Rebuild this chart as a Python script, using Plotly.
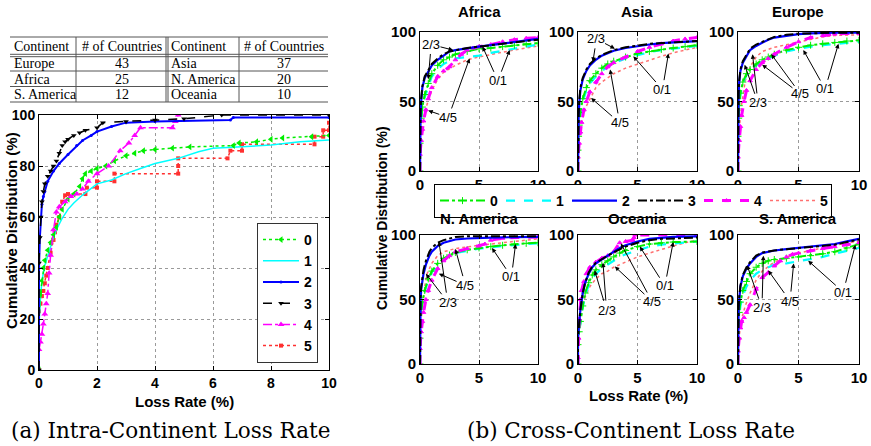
import plotly.graph_objects as go

W, H = 871, 446
def fx(p): return p / W
def fy(p): return 1 - p / H

SANS = "Liberation Sans"
SERIF = "Liberation Serif"
CAPSERIF = "DejaVu Serif"

# ---------------- table data ----------------
table_header = ["Continent", "# of Countries", "Continent", "# of Countries"]
table_cont_a = ["Europe", "Africa", "S. America"]
table_count_a = [43, 25, 12]
table_cont_b = ["Asia", "N. America", "Oceania"]
table_count_b = [37, 20, 10]

series_names = ["0", "1", "2", "3", "4", "5"]

# ---------------- (a) intra-continent loss rate CDF ----------------
intra_x0 = [0, 0, 0.05, 0.1, 0.15, 0.2, 0.3, 0.4, 0.5, 0.6, 0.7, 0.8, 1.0, 1.2, 1.4, 1.5, 1.6, 1.8, 2.0, 2.3, 2.6, 3.0, 3.3, 3.6, 4.0, 4.6, 5.2, 6.7, 6.9, 7.5, 8.0, 8.4, 9.4, 10]
intra_y0 = [0, 26, 30, 35, 40, 43, 47, 50, 53, 56, 60, 63, 67, 69, 72, 75, 77, 78, 79, 80, 82, 84, 85, 86, 86.5, 87, 87.5, 88, 89, 89.5, 90.5, 91, 91.5, 92]
intra_x1 = [0, 0, 0.05, 0.1, 0.2, 0.3, 0.4, 0.5, 0.6, 0.8, 1.0, 1.2, 1.5, 2.0, 2.5, 3.0, 3.5, 4.0, 4.8, 5.2, 5.5, 6.0, 7.0, 8.0, 9.0, 10]
intra_y1 = [0, 18, 28, 35, 41, 45, 49, 52, 55, 59.5, 63, 65.5, 68.6, 73, 74.5, 77, 79, 81, 83, 84.6, 85.6, 87, 87.6, 88.2, 89.5, 90.2]
intra_x2 = [0, 0, 0.03, 0.06, 0.1, 0.15, 0.2, 0.3, 0.5, 0.7, 1.0, 1.3, 1.5, 1.8, 2.0, 2.5, 3.0, 4.0, 5.0, 6.6, 6.7, 10]
intra_y2 = [0, 40, 52, 60, 65, 68, 70, 74, 78, 81, 84.5, 88, 90, 92, 93.5, 95.5, 97, 97.5, 97.8, 98, 99, 99]
intra_x3 = [0, 0, 0.03, 0.06, 0.1, 0.15, 0.2, 0.3, 0.4, 0.5, 0.6, 0.7, 0.8, 0.9, 1.0, 1.2, 1.4, 1.6, 2.0, 2.2, 3.0, 4.0, 5.0, 6.3, 10]
intra_y3 = [0, 42, 52, 60, 66, 70, 73, 76, 78, 80, 82, 85, 88, 89.5, 90.5, 92, 93, 94, 95, 97, 97.5, 98, 98.5, 100, 100]
intra_x4 = [0, 0, 0.05, 0.1, 0.15, 0.2, 0.25, 0.3, 0.35, 0.4, 0.5, 0.6, 0.7, 0.9, 1.1, 1.3, 1.5, 1.7, 2.0, 2.4, 2.8, 3.1, 3.3, 3.5, 4.6, 4.7, 4.8]
intra_y4 = [0, 8, 11, 14, 18, 22, 26, 30, 38, 45, 55, 62, 64, 66, 68, 69, 71, 74, 77, 80, 86, 89, 92, 95, 95, 97.5, 100]
intra_x5 = [0, 0, 0.05, 0.1, 0.15, 0.2, 0.25, 0.3, 0.4, 0.5, 0.55, 0.6, 0.7, 0.8, 0.9, 1.0, 1.6, 1.65, 2.0, 2.0, 2.6, 2.6, 4.8, 4.8, 4.8, 6.5, 6.6, 7.0, 7.0, 9.5, 9.5, 9.8, 9.8, 10, 10]
intra_y5 = [0, 23, 26, 29, 31, 34, 37, 40, 46, 51, 54, 57, 60, 66, 68.5, 69, 69, 71.5, 71.5, 74, 74, 77, 77, 80, 83, 83, 86, 86, 88.5, 88.5, 91.5, 91.5, 94, 94, 97]

intra_x = [intra_x0, intra_x1, intra_x2, intra_x3, intra_x4, intra_x5]
intra_y = [intra_y0, intra_y1, intra_y2, intra_y3, intra_y4, intra_y5]

# ---------------- (b) cross-continent loss rate CDF ----------------
continents = ["Africa", "Asia", "Europe", "N. America", "Oceania", "S. America"]

xa = [0, 0, 0.05, 0.1, 0.2, 0.4, 0.7, 1.0, 1.5, 2.0, 2.5, 3.0, 4.0, 5.0, 6.0, 7.0, 8.0, 9.0, 10]
africa_x = [xa, xa, xa, xa,
            [0, 0, 0.1, 0.2, 0.3, 0.5, 0.7, 1.0, 1.5, 2.0, 2.5, 3.0, 3.5, 4.0, 4.5, 5.0, 6.0, 7.0, 8.0, 9.0, 10],
            [0, 0, 0.1, 0.3, 0.6, 1.0, 1.5, 2.0, 3.0, 4.0, 5.0, 6.0, 7.0, 8.0, 9.0, 10]]
africa_y = [[0, 20, 30, 38, 46, 55, 63, 70, 76, 80, 82, 84, 86, 88, 88.5, 89.5, 90.5, 91.5, 92],
            [0, 20, 30, 37, 45, 53, 61, 68, 73, 77, 79, 81, 82, 83, 85, 86.5, 88, 89.5, 91],
            [0, 30, 42, 50, 60, 67, 72, 76, 80, 83, 86, 87, 88.5, 89.5, 90.5, 91.5, 92.5, 94, 95],
            [0, 32, 44, 52, 61, 68, 73, 77, 81, 84, 86, 87, 88.5, 89.5, 90.5, 91.5, 92.5, 93.5, 94.5],
            [0, 12, 22, 30, 36, 44, 52, 60, 68, 72, 75, 80, 84, 87, 88.5, 89.5, 91, 93, 94.5, 95.5, 96],
            [0, 12, 25, 38, 48, 58, 66, 71, 76, 80, 82, 84, 85.5, 87, 88.5, 90]]

asia_x = [xa, xa, xa, xa,
          [0, 0, 0.1, 0.2, 0.3, 0.5, 0.7, 1.0, 1.5, 2.0, 2.5, 3.0, 4.0, 5.0, 6.0, 7.0, 8.0, 9.0, 10],
          [0, 0, 0.1, 0.3, 0.6, 1.0, 1.5, 2.0, 3.0, 4.0, 5.0, 6.0, 7.0, 8.0, 9.0, 10]]
asia_y = [[0, 15, 25, 33, 42, 52, 60, 65, 70, 74, 77, 79, 82, 84.5, 86, 87.5, 88.5, 89.5, 90.5],
          [0, 15, 24, 32, 40, 50, 58, 63, 68, 72, 75, 77.5, 81, 83.5, 85.5, 87, 88, 89, 90],
          [0, 25, 38, 48, 58, 66, 72, 76, 80, 83, 85, 86.5, 88.5, 90, 91, 92, 92.5, 93, 93.5],
          [0, 27, 40, 50, 60, 67, 73, 77, 81, 83.5, 85.5, 87, 89, 90.5, 91.5, 92, 92.5, 93, 93.5],
          [0, 10, 20, 28, 35, 44, 50, 57, 64, 70, 75, 78, 82, 86, 89, 91.5, 93.5, 95, 96],
          [0, 10, 22, 35, 45, 52, 60, 64, 70, 74, 77, 80, 82.5, 85, 87, 89]]

xe = [0, 0, 0.05, 0.1, 0.2, 0.4, 0.7, 1.0, 1.5, 2.0, 2.5, 3.0, 4.0, 5.0, 6.0, 7.0, 8.0, 10]
europe_x = [xa, xa, xe, xe,
            [0, 0, 0.1, 0.2, 0.3, 0.5, 0.7, 1.0, 1.5, 2.0, 2.5, 3.0, 4.0, 5.0, 6.0, 7.0, 8.0, 9.0, 10],
            [0, 0, 0.1, 0.3, 0.6, 1.0, 1.5, 2.0, 3.0, 4.0, 5.0, 6.0, 7.0, 8.0, 10]]
europe_y = [[0, 25, 38, 47, 56, 64, 70, 73, 77, 80, 82, 84, 87, 89, 90.5, 91.5, 92.5, 93.5, 94],
            [0, 25, 37, 46, 55, 63, 69, 72, 76, 79, 81, 83, 86, 88, 89.5, 90.5, 91.5, 92.5, 93],
            [0, 35, 55, 64, 72, 78, 83, 87, 90, 92.5, 94.5, 96, 97.5, 98.5, 99, 99.3, 99.5, 99.5],
            [0, 37, 56, 65, 73, 79, 84, 88, 91, 93, 95, 96.5, 98, 98.8, 99, 99.3, 99.5, 99.5],
            [0, 10, 22, 32, 40, 50, 58, 65, 73, 78, 81, 84, 89, 93, 96, 97.5, 98.5, 99, 99],
            [0, 15, 30, 48, 65, 75, 82, 86, 89, 91, 93, 95, 96.5, 97.5, 98]]

xn = [0, 0, 0.05, 0.1, 0.2, 0.3, 0.5, 0.8, 1.0, 1.5, 2.0, 2.5, 3.0, 4.0, 5.0, 6.0, 8.0, 10]
namerica_x = [xa, xa, xn, xn,
              [0, 0, 0.1, 0.2, 0.3, 0.5, 0.7, 1.0, 1.5, 2.0, 2.5, 3.0, 4.0, 5.0, 5.5, 6.0, 7.0, 8.0, 10],
              [0, 0, 0.1, 0.2, 0.4, 0.6, 1.0, 1.5, 2.0, 3.0, 4.0, 5.0, 6.0, 7.0, 8.0, 9.0, 10]]
namerica_y = [[0, 20, 32, 40, 48, 57, 66, 72, 78, 82, 84.5, 86.5, 88.5, 90, 91, 92, 93, 93.5, 94],
              [0, 20, 31, 39, 47, 56, 65, 71, 77, 81, 84, 86, 88, 89.5, 90.5, 91.5, 92.5, 93, 93.5],
              [0, 30, 50, 58, 66, 70, 77, 84, 87, 91.5, 94, 95.5, 96.5, 97.3, 97.8, 98, 98.3, 98.5],
              [0, 32, 52, 60, 68, 73, 80, 87, 90, 94, 96, 97.5, 98.5, 99, 99, 99, 99, 99],
              [0, 12, 25, 33, 40, 50, 57, 65, 74, 80, 84, 87, 89.5, 91.5, 93, 96, 97.5, 98, 98.5],
              [0, 20, 35, 45, 60, 70, 78, 84, 87, 89.5, 91, 92, 93, 94, 95, 96, 97]]

xo = [0, 0, 0.1, 0.2, 0.4, 0.6, 0.9, 1.2, 1.5, 2.0, 2.5, 3.0, 3.5, 4.0, 5.0, 6.0, 7.0, 8.0, 10]
oceania_x = [xo, xo, xo, xo,
             [0, 0, 0.05, 0.1, 0.2, 0.3, 0.5, 0.7, 1.0, 1.5, 2.0, 2.5, 3.0, 3.5, 4.0, 4.6, 4.7, 4.8, 10],
             [0, 0, 0.1, 0.3, 0.6, 1.0, 1.5, 2.0, 2.5, 3.0, 4.0, 5.0, 6.0, 7.0, 8.0, 9.0, 10]]
oceania_y = [[0, 15, 25, 33, 45, 55, 63, 69, 73, 77, 80, 83, 86, 88, 91, 93, 94, 94.5, 95],
             [0, 15, 25, 32, 44, 53, 61, 66, 70, 74, 77, 80, 83, 85, 88, 91, 92.5, 93.5, 95],
             [0, 20, 32, 42, 55, 63, 70, 75, 78, 81, 84, 87, 90, 92, 95, 97, 98, 98.5, 99],
             [0, 20, 32, 42, 55, 63, 71, 75.5, 78.5, 81.5, 84, 86.5, 89, 91, 94, 96, 97, 97.5, 98],
             [0, 5, 20, 35, 50, 57, 64, 70, 75, 79, 82, 84, 87, 94, 95, 96, 98, 100, 100],
             [0, 10, 25, 40, 52, 60, 66, 70, 72, 75, 79, 83, 86, 89, 91.5, 94, 96]]

samerica_x = [xa, xa, xa, xa,
              [0, 0, 0.1, 0.2, 0.3, 0.5, 0.7, 1.0, 1.5, 2.0, 2.5, 3.0, 3.5, 4.0, 4.5, 5.0, 6.0, 7.0, 8.0, 9.0, 10],
              [0, 0, 0.1, 0.3, 0.6, 1.0, 1.5, 2.0, 3.0, 4.0, 5.0, 6.0, 7.0, 8.0, 9.0, 10]]
samerica_y = [[0, 20, 32, 40, 48, 57, 64, 70, 75, 78, 80, 81, 82, 83, 84, 85.5, 87, 90, 93],
              [0, 20, 30, 37, 45, 53, 60, 65, 70, 73, 75, 77, 78, 79.5, 81, 83, 85.5, 88, 90],
              [0, 30, 42, 50, 60, 68, 74, 78, 83, 86, 87, 88, 89, 90, 90.5, 91.5, 93, 95, 97],
              [0, 32, 44, 52, 61, 69, 75, 79, 84, 86.5, 87.5, 88, 89, 90, 90.5, 91.5, 92.5, 94.5, 96.5],
              [0, 10, 20, 28, 33, 36, 40, 46, 58, 67, 71, 76, 80, 83, 85, 86, 88, 89.5, 91, 92.5, 94],
              [0, 10, 22, 35, 45, 55, 65, 72, 79, 83, 86, 88, 90, 92, 94, 95]]

cross_x = [africa_x, asia_x, europe_x, namerica_x, oceania_x, samerica_x]
cross_y = [africa_y, asia_y, europe_y, namerica_y, oceania_y, samerica_y]

# annotation labels: (label, text position, arrow targets) per continent
notes_africa = [("2/3", (0.95, 91), [(2.8, 87), (0.7, 66)]),
                ("0/1", (6.6, 65), [(5.3, 89.5), (7.6, 87)]),
                ("4/5", (2.4, 38.5), [(0.7, 43.5), (4.2, 81)])]
notes_asia = [("2/3", (1.55, 95), [(1.25, 78.5), (3.1, 88)]),
              ("0/1", (7.1, 58.6), [(4.65, 82.5), (7.6, 84.5)]),
              ("4/5", (3.5, 34.7), [(1.1, 52.5), (2.7, 73)])]
notes_europe = [("2/3", (1.65, 49), [(0.55, 76.5), (1.2, 84)]),
                ("4/5", (5.15, 55.5), [(2.0, 76.5), (2.75, 84)]),
                ("0/1", (7.2, 59), [(5.4, 87), (8.3, 91.5)])]
notes_namerica = [("2/3", (2.35, 48), [(0.5, 70), (1.6, 95)]),
                  ("4/5", (3.85, 61), [(1.6, 70), (3.0, 89)]),
                  ("0/1", (7.75, 67.5), [(6.1, 90), (8.1, 93)])]
notes_oceania = [("2/3", (2.4, 41.8), [(1.4, 72.5), (2.1, 78.5)]),
                 ("4/5", (6.2, 48.8), [(3.1, 75.5), (3.6, 93.5)]),
                 ("0/1", (7.3, 60.5), [(5.2, 91), (8.0, 94.5)])]
notes_samerica = [("2/3", (1.98, 43.6), [(0.75, 76.5), (2.1, 84)]),
                  ("4/5", (4.3, 48.8), [(2.5, 72.5), (4.6, 78)]),
                  ("0/1", (8.7, 55.8), [(5.8, 80), (9.7, 92.5)])]
cross_notes = [notes_africa, notes_asia, notes_europe, notes_namerica, notes_oceania, notes_samerica]

# ---------------- styles ----------------
left_styles = [
    dict(color="#00ee00", dash="dot", width=1.5, symbol="triangle-left", size=6, mode="lines+markers"),
    dict(color="#00ffff", dash="solid", width=1.5, symbol="circle", size=1, mode="lines"),
    dict(color="#0000ff", dash="solid", width=2, symbol="circle", size=3, mode="lines+markers"),
    dict(color="#000000", dash="dash", width=1.5, symbol="triangle-down", size=5, mode="lines+markers"),
    dict(color="#ff00ff", dash="dashdot", width=1.5, symbol="triangle-up", size=6, mode="lines+markers"),
    dict(color="#ff3030", dash="dot", width=1.5, symbol="square", size=4, mode="lines+markers"),
]
right_styles = [
    dict(color="#00ee00", dash="dashdot", width=2, symbol="cross-thin-open", size=5, mode="lines+markers"),
    dict(color="#00ffff", dash="dash", width=2.2, symbol="circle", size=1, mode="lines"),
    dict(color="#0000ff", dash="solid", width=2.2, symbol="circle", size=1, mode="lines"),
    dict(color="#000000", dash="dashdot", width=2, symbol="circle", size=1, mode="lines"),
    dict(color="#ff00ff", dash="dash", width=3, symbol="triangle-up", size=4, mode="lines+markers"),
    dict(color="#ff7070", dash="dot", width=1.5, symbol="circle", size=1, mode="lines"),
]
draw_order = [5, 1, 0, 4, 2, 3]

fig = go.Figure()

# left plot
for i in draw_order:
    s = left_styles[i]
    fig.add_trace(go.Scatter(
        x=intra_x[i], y=intra_y[i], name=series_names[i], mode=s["mode"],
        line=dict(color=s["color"], dash=s["dash"], width=s["width"]),
        marker=dict(symbol=s["symbol"], size=s["size"], color=s["color"]),
        xaxis="x", yaxis="y", legend="legend", legendrank=i + 1, showlegend=True))

# right plots
for k, cname in enumerate(continents):
    ax = str(k + 2)
    for i in draw_order:
        s = right_styles[i]
        fig.add_trace(go.Scatter(
            x=cross_x[k][i], y=cross_y[k][i], name=series_names[i], mode=s["mode"],
            line=dict(color=s["color"], dash=s["dash"], width=s["width"]),
            marker=dict(symbol=s["symbol"], size=s["size"], color=s["color"],
                        line=dict(color=s["color"], width=1)),
            xaxis="x" + ax, yaxis="y" + ax, legend="legend2", legendrank=i + 1,
            showlegend=(k == 0)))

tickfont_l = dict(family=SANS, size=14, color="black", weight="bold")
tickfont_r = dict(family=SANS, size=15, color="black", weight="bold")

def axis(domain, rng, dtick, anchor, tickfont):
    return dict(domain=domain, range=rng, dtick=dtick, tick0=0, anchor=anchor,
                showline=True, linecolor="black", linewidth=1, mirror="ticks",
                ticks="inside", ticklen=4, tickcolor="black", tickfont=tickfont,
                showgrid=True, gridcolor="#9a9a9a", griddash="dot", gridwidth=1,
                zeroline=False, fixedrange=True, automargin=False)

layout = dict(
    width=W, height=H, margin=dict(l=0, r=0, t=0, b=0, autoexpand=False),
    paper_bgcolor="white", plot_bgcolor="white",
    font=dict(family=SANS, color="black"),
    xaxis=axis([fx(39), fx(329)], [0, 10], 2, "y", tickfont_l),
    yaxis=axis([fy(370), fy(115)], [0, 100], 20, "x", tickfont_l),
    legend=dict(x=fx(257), y=fy(223), xanchor="left", yanchor="top",
                bordercolor="#333", borderwidth=1, bgcolor="white",
                font=dict(family=SANS, size=14, weight="bold"),
                itemwidth=36, tracegroupgap=0),
    legend2=dict(x=fx(434), y=fy(184), xanchor="left", yanchor="top", orientation="h",
                 bordercolor="black", borderwidth=1, bgcolor="white",
                 font=dict(family=SANS, size=14, weight="bold"),
                 itemwidth=45, entrywidth=6, entrywidthmode="pixels"),
)

col_px = [(420, 538), (578, 697), (738, 859)]
row_px = [(171, 32), (364, 235)]
for k in range(6):
    c = col_px[k % 3]
    r = row_px[k // 3]
    ax = str(k + 2)
    layout["xaxis" + ax] = axis([fx(c[0]), fx(c[1])], [0, 10], 5, "y" + ax, tickfont_r)
    layout["yaxis" + ax] = axis([fy(r[0]), fy(r[1])], [0, 100], 50, "x" + ax, tickfont_r)

annotations = []
shapes = []
def text_ann(px, py, text, size, bold=True, angle=0, family=SANS, xanchor="center"):
    annotations.append(dict(x=fx(px), y=fy(py), xref="paper", yref="paper", text=text,
                            showarrow=False, textangle=angle, xanchor=xanchor, yanchor="middle",
                            font=dict(family=family, size=size, color="black",
                                      weight="bold" if bold else "normal")))

# ---- table (rules + cell text from the table lists)
tbl_cols = [10, 76, 167, 239, 328]
tbl_rows = [37, 55.5, 71, 86.5, 102]
def hline(py, x0=tbl_cols[0], x1=tbl_cols[-1]):
    shapes.append(dict(type="line", xref="paper", yref="paper", x0=fx(x0), x1=fx(x1),
                       y0=fy(py), y1=fy(py), line=dict(color="#555", width=1)))
def vline(px, y0=tbl_rows[0], y1=tbl_rows[-1]):
    shapes.append(dict(type="line", xref="paper", yref="paper", x0=fx(px), x1=fx(px),
                       y0=fy(y0), y1=fy(y1), line=dict(color="#555", width=1)))
hline(tbl_rows[0])
hline(tbl_rows[1] - 1.2)
hline(tbl_rows[1] + 1.2)
hline(tbl_rows[2]); hline(tbl_rows[3]); hline(tbl_rows[4])
vline(tbl_cols[1]); vline(tbl_cols[2] - 1); vline(tbl_cols[2] + 1); vline(tbl_cols[3])

table_cols = [table_cont_a, table_count_a, table_cont_b, table_count_b]
for c in range(4):
    left_aligned = c in (0, 2)
    cx = tbl_cols[c] + 2 if left_aligned else (tbl_cols[c] + tbl_cols[c + 1]) / 2
    xa_ = "left" if left_aligned else "center"
    text_ann(cx, (tbl_rows[0] + tbl_rows[1]) / 2, table_header[c], 14, bold=False, family=SERIF, xanchor=xa_)
    for r, v in enumerate(table_cols[c]):
        text_ann(cx, (tbl_rows[r + 1] + tbl_rows[r + 2]) / 2 + 0.5, str(v), 14, bold=False,
                 family=SERIF, xanchor=xa_)

# subplot titles
title_pos = [(479, 12), (637, 12), (798, 12), (479, 218), (637, 218), (798, 218)]
for k, cname in enumerate(continents):
    text_ann(title_pos[k][0], title_pos[k][1], cname, 15)

text_ann(11, 231, "Cumulative Distribution (%)", 15, angle=-90)
text_ann(184, 401, "Loss Rate (%)", 15)
text_ann(382, 218, "Cumulative Distribution (%)", 14, angle=-90)
text_ann(638, 395, "Loss Rate (%)", 15)
text_ann(170, 430, "(a) Intra-Continent Loss Rate", 21.5, bold=False, family=CAPSERIF)
text_ann(631, 430, "(b) Cross-Continent Loss Rate", 21.5, bold=False, family=CAPSERIF)

# arrow labels
for k in range(6):
    xr, yr = "x" + str(k + 2), "y" + str(k + 2)
    for label, (tx, ty), targets in cross_notes[k]:
        annotations.append(dict(x=tx, y=ty, xref=xr, yref=yr, text=label, showarrow=False,
                                font=dict(family=SANS, size=13, color="black")))
        for (hx, hy) in targets:
            annotations.append(dict(x=hx, y=hy, xref=xr, yref=yr, ax=tx, ay=ty,
                                    axref=xr, ayref=yr, text="", showarrow=True,
                                    arrowhead=2, arrowsize=0.9, arrowwidth=1,
                                    arrowcolor="black", startstandoff=8))

layout["annotations"] = annotations
layout["shapes"] = shapes
fig.update_layout(**layout)
fig.write_html("out.html", config={"displayModeBar": False},
               post_script="document.body.style.margin='0px';document.body.style.overflow='hidden';")
